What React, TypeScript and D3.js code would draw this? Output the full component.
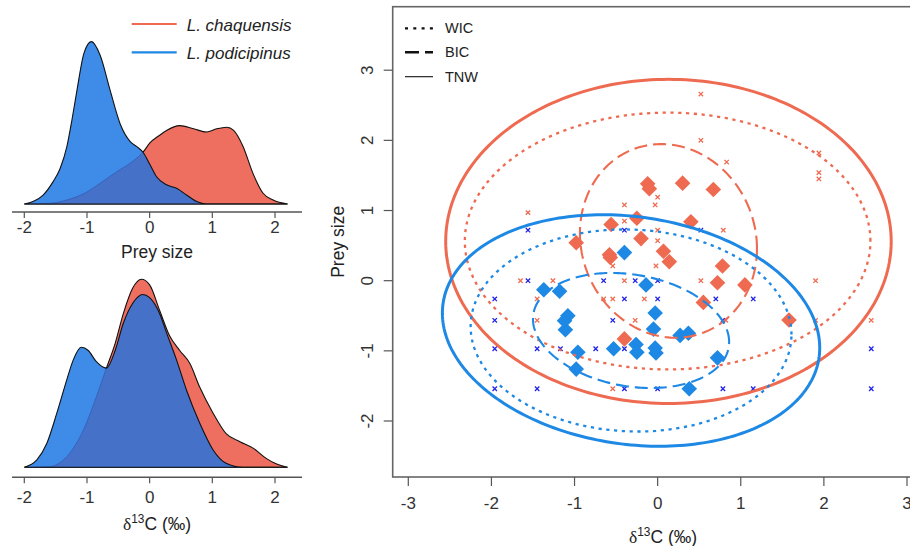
import React from 'react';
import * as d3 from 'd3';

// ---------- colours ----------
const RED = '#EE6A50';
const BLUE = '#1E88E5';
const RED_FILL = '#EE6F60';
const BLUE_FILL = '#3E8CE8';
const OVERLAP_FILL = '#4571C8';
const BLUE_X = '#2222E8';

// ---------- density panels (relative density) ----------
const topBlueX = [-2, -1.86, -1.7, -1.54, -1.43, -1.32, -1.24, -1.16, -1.05, -0.93, -0.79, -0.63, -0.47, -0.31, -0.21, -0.1, 0, 0.11, 0.27, 0.43, 0.59, 0.75, 0.91, 1.2, 1.6, 2.2];
const topBlueD = [0, 0.015, 0.056, 0.14, 0.22, 0.36, 0.525, 0.71, 0.94, 1.015, 0.93, 0.71, 0.5, 0.39, 0.36, 0.32, 0.25, 0.17, 0.12, 0.098, 0.056, 0.015, 0, 0, 0, 0];
const topRedX = [-2, -1.6, -1.32, -1.0, -0.79, -0.53, -0.26, -0.1, 0, 0.16, 0.27, 0.48, 0.7, 0.91, 1.07, 1.23, 1.34, 1.49, 1.65, 1.81, 1.97, 2.2];
const topRedD = [0, 0.004, 0.025, 0.075, 0.13, 0.2, 0.27, 0.327, 0.38, 0.43, 0.46, 0.49, 0.47, 0.45, 0.47, 0.48, 0.46, 0.36, 0.19, 0.067, 0.025, 0];

const botBlueX = [-2, -1.8, -1.64, -1.48, -1.32, -1.22, -1.09, -0.98, -0.85, -0.69, -0.55, -0.42, -0.27, -0.11, 0, 0.16, 0.27, 0.43, 0.59, 0.8, 1.01, 1.22, 1.49, 2.2];
const botBlueD = [0, 0.046, 0.15, 0.34, 0.55, 0.67, 0.75, 0.73, 0.66, 0.62, 0.73, 0.9, 1.025, 1.08, 1.06, 0.96, 0.84, 0.67, 0.48, 0.275, 0.11, 0.025, 0, 0];
const botRedX = [-2, -1.6, -1.32, -1.06, -0.85, -0.69, -0.55, -0.42, -0.27, -0.13, 0, 0.16, 0.32, 0.48, 0.64, 0.8, 1.01, 1.22, 1.44, 1.65, 1.86, 2.0, 2.2];
const botRedD = [0, 0.004, 0.067, 0.23, 0.44, 0.62, 0.775, 0.96, 1.12, 1.175, 1.14, 0.98, 0.82, 0.73, 0.65, 0.5, 0.34, 0.21, 0.16, 0.12, 0.056, 0.025, 0];

const densityTicks = [-2, -1, 0, 1, 2];
const speciesNames = ['L. chaquensis', 'L. podicipinus'];

// ---------- scatter: individual means (diamonds) ----------
const redMeanX = [-0.12, -0.1, 0.3, 0.67, -0.25, -0.56, 0.4, -0.98, -0.2, -0.58, -0.57, 0.07, 0.14, 0.78, 0.72, 1.05, 0.55, 1.58, -0.4];
const redMeanY = [1.38, 1.31, 1.39, 1.3, 0.89, 0.8, 0.84, 0.54, 0.6, 0.37, 0.33, 0.42, 0.27, 0.21, -0.03, -0.06, -0.31, -0.56, -0.83];
const blueMeanX = [-1.37, -1.18, -1.08, -1.12, -1.11, -0.96, -0.98, -0.53, -0.26, -0.25, -0.4, -0.14, -0.03, -0.05, 0.27, 0.37, -0.03, -0.02, 0.72, 0.38];
const blueMeanY = [-0.13, -0.15, -0.5, -0.57, -0.7, -1.02, -1.26, -0.97, -0.91, -1.02, 0.4, -0.06, -0.46, -0.69, -0.78, -0.75, -0.96, -1.03, -1.1, -1.54];

// ---------- scatter: single observations (crosses) ----------
const redObsX = [0.52, 0.52, 0.83, 1.94, 1.94, 1.94, 0, -0.03, -0.4, -1.56, -0.4, 0, 0.79, 0, -0.02, -0.54, 0.52, 1.9, -1.65, -1.26, -0.4, -0.16, -1.45, -0.65, -0.54, -1.45, -0.27, 0.82, 1.9, 2.57, -0.54];
const redObsY = [2.66, 2.0, 1.69, 1.82, 1.54, 1.45, 1.19, 1.08, 1.08, 0.97, 0.85, 0.72, 0.72, 0.57, 0.21, 0.21, 0, 0, 0, 0, 0, -0.26, -0.26, -0.26, -0.26, -0.565, -0.565, -0.565, -0.565, -0.565, -1.54];
const blueObsX = [-1.56, -0.4, 0.52, -1.56, -0.65, -0.27, 0, -1.96, -0.4, 0, 0.7, 1.15, -1.96, -0.54, 0.785, -1.96, -1.45, -1.17, -0.745, -0.4, 2.57, -1.96, -1.45, -0.4, 0, 0.785, 1.15, 2.57];
const blueObsY = [0.72, 0.72, 0.72, 0, 0, 0, 0, -0.26, -0.26, -0.26, -0.26, -0.26, -0.565, -0.565, -0.565, -0.97, -0.97, -0.97, -0.97, -0.97, -0.97, -1.54, -1.54, -1.54, -1.54, -1.54, -1.54, -1.54];

// ---------- ellipses: [TNW, WIC, BIC] ----------
const ellipseKinds = ['TNW', 'WIC', 'BIC'];
const redEllCx = [0.13, 0.12, 0.13];
const redEllCy = [0.56, 0.565, 0.567];
const redEllSx = [2.68, 2.44, 1.065];
const redEllSy = [2.31, 1.83, 1.38];
const redEllRho = [0, 0, -0.08];
const blueEllCx = [-0.32, -0.32, -0.32];
const blueEllCy = [-0.71, -0.71, -0.71];
const blueEllSx = [2.27, 1.93, 1.18];
const blueEllSy = [1.65, 1.44, 0.82];
const blueEllRho = [-0.15, -0.04, -0.2];

const scatterXTicks = [-3, -2, -1, 0, 1, 2, 3];
const scatterYTicks = [-2, -1, 0, 1, 2, 3];

const FONT = "'Liberation Sans', Arial, Helvetica, sans-serif";

const kindStyle: Record<string, { w: number; dash: string | undefined }> = {
  TNW: { w: 3, dash: undefined },
  WIC: { w: 2.3, dash: '3.2 4.6' },
  BIC: { w: 2.1, dash: '13 6' },
};

function zip(xs: number[], ys: number[]): [number, number][] {
  return xs.map((x, i) => [x, ys[i]]);
}

function DeltaLabel({ x, y, size }: { x: number; y: number; size: number }) {
  return (
    <text x={x} y={y} textAnchor="middle" fontSize={size} fill="#222" fontFamily={FONT}>
      <tspan fontFamily="'Liberation Serif', 'Times New Roman', serif">δ</tspan>
      <tspan fontSize={size * 0.68} dy={-size * 0.42}>13</tspan>
      <tspan dy={size * 0.42}>C (‰)</tspan>
    </text>
  );
}

function DensityPanel({ id, base, blueX, blueD, redX, redD, axisY, labelY, titleY, title }: any) {
  const x = d3.scaleLinear().domain([-2, 2]).range([24.3, 275]);
  const y = d3.scaleLinear().domain([0, 1]).range([base, base - 160]);
  const area = d3
    .area<[number, number]>()
    .x((d) => x(d[0]))
    .y0(base)
    .y1((d) => y(d[1]))
    .curve(d3.curveMonotoneX);
  const line = d3
    .line<[number, number]>()
    .x((d) => x(d[0]))
    .y((d) => y(d[1]))
    .curve(d3.curveMonotoneX);
  const red = zip(redX, redD);
  const blue = zip(blueX, blueD);
  const redArea = area(red) || '';
  const blueArea = area(blue) || '';
  return (
    <g>
      <defs>
        <clipPath id={`clip-${id}`}>
          <path d={blueArea} />
        </clipPath>
      </defs>
      <path d={redArea} fill={RED_FILL} stroke="#111" strokeWidth={1.1} />
      <path d={blueArea} fill={BLUE_FILL} stroke="none" />
      <path d={redArea} fill={OVERLAP_FILL} stroke="none" clipPath={`url(#clip-${id})`} />
      <path d={line(red) || ''} fill="none" stroke="#3560B8" strokeWidth={0.9} clipPath={`url(#clip-${id})`} />
      <path d={blueArea} fill="none" stroke="#111" strokeWidth={1.1} />
      {/* axis */}
      <line x1={12} x2={302} y1={axisY} y2={axisY} stroke="#555" strokeWidth={1.4} />
      {densityTicks.map((t) => (
        <g key={t}>
          <line x1={x(t)} x2={x(t)} y1={axisY} y2={axisY + 6} stroke="#555" strokeWidth={1.2} />
          <text x={x(t)} y={labelY} textAnchor="middle" fontSize={17} fill="#333" fontFamily={FONT}>
            {t}
          </text>
        </g>
      ))}
      {title === 'prey' ? (
        <text x={157} y={titleY} textAnchor="middle" fontSize={17.5} fill="#222" fontFamily={FONT}>
          Prey size
        </text>
      ) : (
        <DeltaLabel x={157} y={titleY} size={17.5} />
      )}
    </g>
  );
}

export default function App() {
  const xR = d3.scaleLinear().domain([-3, 3]).range([408.3, 907]);
  const yR = d3.scaleLinear().domain([-2, 3]).range([421, 70.2]);
  const boxL = 392.7;
  const boxT = 6.7;
  const boxB = 477;
  const boxR = 935;

  const ellLine = d3
    .line<[number, number]>()
    .x((d) => xR(d[0]))
    .y((d) => yR(d[1]))
    .curve(d3.curveLinearClosed);
  const ellipse = (cx: number, cy: number, sx: number, sy: number, rho: number) => {
    const q = Math.sqrt(1 - rho * rho);
    const pts: [number, number][] = d3.range(0, 2 * Math.PI, Math.PI / 120).map((t) => [
      cx + sx * Math.cos(t),
      cy + sy * (rho * Math.cos(t) + q * Math.sin(t)),
    ]);
    return ellLine(pts) || '';
  };

  const diamond = d3.symbol().type(d3.symbolSquare).size(122)() || '';
  const cross = 'M-2.2,-2.2L2.2,2.2M-2.2,2.2L2.2,-2.2';

  return (
    <svg
      width={910}
      height={546}
      style={{ position: 'absolute', left: 0, top: 0, background: '#fff' }}
      fontFamily={FONT}
    >
      <rect x={0} y={0} width={910} height={546} fill="#fff" />

      {/* ---------- left: legend ---------- */}
      <line x1={131.7} x2={176.7} y1={24} y2={24} stroke={RED} strokeWidth={2.2} />
      <text x={186.7} y={30.7} fontSize={17} fontStyle="italic" fill="#222">{speciesNames[0]}</text>
      <line x1={131.7} x2={176.7} y1={52.3} y2={52.3} stroke={BLUE} strokeWidth={2.2} />
      <text x={186.7} y={59} fontSize={17} fontStyle="italic" fill="#222">{speciesNames[1]}</text>

      <DensityPanel id="top" base={204} blueX={topBlueX} blueD={topBlueD} redX={topRedX} redD={topRedD}
        axisY={212} labelY={233.3} titleY={258.3} title="prey" />
      <DensityPanel id="bot" base={467.3} blueX={botBlueX} blueD={botBlueD} redX={botRedX} redD={botRedD}
        axisY={477.3} labelY={503.3} titleY={530} title="delta" />

      {/* ---------- right: scatter ---------- */}
      <rect x={boxL} y={boxT} width={boxR - boxL} height={boxB - boxT} fill="none" stroke="#666" strokeWidth={1.6} />

      {scatterXTicks.map((t) => (
        <g key={`xt${t}`}>
          <line x1={xR(t)} x2={xR(t)} y1={boxB} y2={boxB + 9} stroke="#555" strokeWidth={1.2} />
          <text x={xR(t)} y={509.3} textAnchor="middle" fontSize={17} fill="#333">{t}</text>
        </g>
      ))}
      {scatterYTicks.map((t) => (
        <g key={`yt${t}`}>
          <line x1={boxL - 9} x2={boxL} y1={yR(t)} y2={yR(t)} stroke="#555" strokeWidth={1.2} />
          <text transform={`translate(373.3,${yR(t)}) rotate(-90)`} textAnchor="middle" fontSize={17} fill="#333">{t}</text>
        </g>
      ))}
      <text transform={`translate(343.5,${(boxT + boxB) / 2}) rotate(-90)`} textAnchor="middle" fontSize={17.5} fill="#222">
        Prey size
      </text>
      <DeltaLabel x={663} y={543.3} size={17.5} />

      {/* legend */}
      <line x1={405} x2={433} y1={28.3} y2={28.3} stroke="#111" strokeWidth={2.2} strokeDasharray="3 5.3" />
      <text x={445} y={33.3} fontSize={14.5} fill="#222">WIC</text>
      <line x1={405} x2={433} y1={52.3} y2={52.3} stroke="#111" strokeWidth={2.6} strokeDasharray="14 6" />
      <text x={445} y={57.3} fontSize={14.5} fill="#222">BIC</text>
      <line x1={405} x2={433} y1={76.7} y2={76.7} stroke="#111" strokeWidth={1.1} />
      <text x={445} y={81.7} fontSize={14.5} fill="#222">TNW</text>

      <g clipPath="url(#scatterClip)">
        <defs>
          <clipPath id="scatterClip">
            <rect x={boxL} y={boxT} width={910 - boxL} height={boxB - boxT} />
          </clipPath>
        </defs>
        {/* crosses */}
        {zip(redObsX, redObsY).map((d, i) => (
          <path key={`ro${i}`} d={cross} transform={`translate(${xR(d[0])},${yR(d[1])})`} stroke={RED} strokeWidth={1.3} fill="none" />
        ))}
        {zip(blueObsX, blueObsY).map((d, i) => (
          <path key={`bo${i}`} d={cross} transform={`translate(${xR(d[0])},${yR(d[1])})`} stroke={BLUE_X} strokeWidth={1.3} fill="none" />
        ))}
        {/* diamonds */}
        {zip(redMeanX, redMeanY).map((d, i) => (
          <path key={`rm${i}`} d={diamond} transform={`translate(${xR(d[0])},${yR(d[1])}) rotate(45)`} fill={RED} />
        ))}
        {zip(blueMeanX, blueMeanY).map((d, i) => (
          <path key={`bm${i}`} d={diamond} transform={`translate(${xR(d[0])},${yR(d[1])}) rotate(45)`} fill={BLUE} />
        ))}
        {/* ellipses */}
        {ellipseKinds.map((k, i) => (
          <path key={`re${k}`} d={ellipse(redEllCx[i], redEllCy[i], redEllSx[i], redEllSy[i], redEllRho[i])}
            fill="none" stroke={RED} strokeWidth={kindStyle[k].w} strokeDasharray={kindStyle[k].dash} />
        ))}
        {ellipseKinds.map((k, i) => (
          <path key={`be${k}`} d={ellipse(blueEllCx[i], blueEllCy[i], blueEllSx[i], blueEllSy[i], blueEllRho[i])}
            fill="none" stroke={BLUE} strokeWidth={kindStyle[k].w} strokeDasharray={kindStyle[k].dash} />
        ))}
      </g>
    </svg>
  );
}
